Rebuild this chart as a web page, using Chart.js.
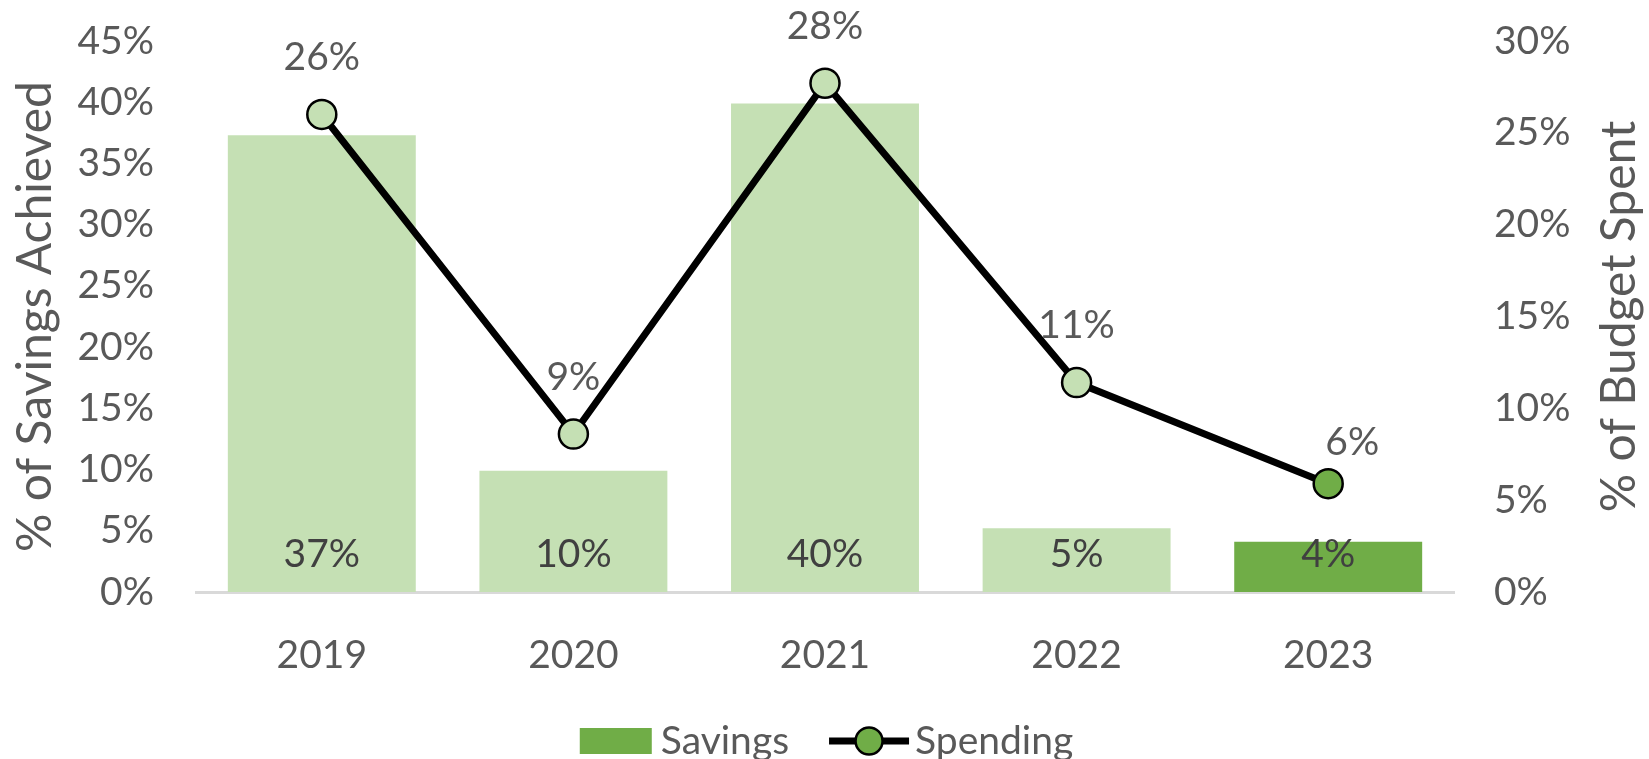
<!DOCTYPE html>
<html>
<head>
<meta charset="utf-8">
<script src="https://cdn.jsdelivr.net/npm/chart.js@4/dist/chart.umd.min.js"></script>
<style>
  html, body { margin: 0; padding: 0; background: #ffffff; }
  #wrap { width: 1649px; height: 759px; }
</style>
</head>
<body>
<div id="wrap"><canvas id="c" width="1649" height="759"></canvas></div>
<script>
const years = ['2019', '2020', '2021', '2022', '2023'];
const savings = [37.3, 9.9, 39.9, 5.2, 4.1];
const spending = [26.0, 8.6, 27.7, 11.4, 5.9];
const leftTicks = [0, 5, 10, 15, 20, 25, 30, 35, 40, 45];
const rightTicks = [0, 5, 10, 15, 20, 25, 30];
const seriesNames = ['Savings', 'Spending'];
const axisTitles = ['% of Savings Achieved', '% of Budget Spent'];

const LIGHT = '#C5E0B4';
const DARK = '#70AD47';
const TEXT = '#595959';
const FONT = 'Lato, "Open Sans", sans-serif';
const FS = 39;
const TITLE_FS = 48;

const pointColors = years.map((y, i) => i === years.length - 1 ? DARK : LIGHT);

const labelsPlugin = {
  id: 'customLabels',
  afterDraw(chart) {
    const ctx = chart.ctx;
    const area = chart.chartArea;
    ctx.save();
    ctx.font = FS + 'px ' + FONT;
    ctx.textAlign = 'center';
    ctx.textBaseline = 'middle';
    // bar labels (inside base)
    const barMeta = chart.getDatasetMeta(0);
    barMeta.data.forEach((el, i) => {
      ctx.fillStyle = '#404040';
      ctx.fillText(Math.round(savings[i]) + '%', el.x, el.base - 38);
    });
    // line labels (above; the last one is nudged up-right like the original)
    const lineMeta = chart.getDatasetMeta(1);
    const n = lineMeta.data.length;
    lineMeta.data.forEach((el, i) => {
      ctx.fillStyle = TEXT;
      const last = i === n - 1;
      const dx = last ? 24 : 0;
      const dy = last ? -41 : -57;
      ctx.fillText(Math.round(spending[i]) + '%', el.x + dx, el.y + dy);
    });
    // axis titles
    const cy = (area.top + area.bottom) / 2;
    ctx.fillStyle = TEXT;
    ctx.font = TITLE_FS + 'px ' + FONT;
    ctx.save();
    ctx.translate(chart.scales.y.left + 36, cy);
    ctx.rotate(-Math.PI / 2);
    ctx.fillText(axisTitles[0], 0, 0);
    ctx.restore();
    ctx.save();
    ctx.translate(chart.scales.y1.right - 29, cy);
    ctx.rotate(-Math.PI / 2);
    ctx.fillText(axisTitles[1], 0, 0);
    ctx.restore();

    // legend
    ctx.font = FS + 'px ' + FONT;
    const ly = 741;
    const boxW = 72, boxH = 26, markW = 80, gapBT = 9, gapItems = 40, gapMT = 6;
    const w1 = ctx.measureText(seriesNames[0]).width;
    const w2 = ctx.measureText(seriesNames[1]).width;
    const total = boxW + gapBT + w1 + gapItems + markW + gapMT + w2;
    let x = chart.width / 2 + 2 - total / 2;
    ctx.fillStyle = DARK;
    ctx.fillRect(x, ly - boxH / 2, boxW, boxH);
    x += boxW + gapBT;
    ctx.textAlign = 'left';
    ctx.fillStyle = TEXT;
    ctx.fillText(seriesNames[0], x, ly);
    x += w1 + gapItems;
    ctx.strokeStyle = '#000000';
    ctx.lineWidth = 7;
    ctx.beginPath();
    ctx.moveTo(x, ly);
    ctx.lineTo(x + markW, ly);
    ctx.stroke();
    ctx.beginPath();
    ctx.arc(x + markW / 2, ly, 13.5, 0, Math.PI * 2);
    ctx.fillStyle = DARK;
    ctx.fill();
    ctx.lineWidth = 2.5;
    ctx.stroke();
    x += markW + gapMT;
    ctx.fillStyle = TEXT;
    ctx.fillText(seriesNames[1], x, ly);
    ctx.restore();
  }
};

new Chart(document.getElementById('c'), {
  data: {
    labels: years,
    datasets: [
      {
        type: 'bar',
        label: seriesNames[0],
        data: savings,
        yAxisID: 'y',
        backgroundColor: pointColors,
        borderWidth: 0,
        barPercentage: 0.747,
        categoryPercentage: 1.0,
        order: 2
      },
      {
        type: 'line',
        label: seriesNames[1],
        data: spending,
        yAxisID: 'y1',
        borderColor: '#000000',
        borderWidth: 7,
        pointRadius: 14.5,
        pointHoverRadius: 14.5,
        pointBackgroundColor: pointColors,
        pointBorderColor: '#000000',
        pointBorderWidth: 2.5,
        tension: 0,
        fill: false,
        order: 1
      }
    ]
  },
  options: {
    responsive: false,
    animation: false,
    devicePixelRatio: 1,
    layout: { padding: { top: 41, left: 0, right: 0, bottom: 0 } },
    plugins: {
      legend: { display: false },
      tooltip: { enabled: false },
      title: { display: false }
    },
    scales: {
      x: {
        type: 'category',
        offset: true,
        grid: { display: false, drawTicks: false },
        border: { display: true, color: '#D9D9D9', width: 3 },
        ticks: { color: TEXT, font: { family: FONT, size: FS }, padding: 40, maxRotation: 0 },
        afterFit(s) { s.height = 167; s.paddingLeft = 0; s.paddingRight = 0; }
      },
      y: {
        position: 'left',
        min: 0, max: 45,
        afterBuildTicks(s) { s.ticks = leftTicks.map(v => ({ value: v })); },
        grid: { display: false, drawTicks: false },
        border: { display: false },
        ticks: { color: TEXT, font: { family: FONT, size: FS }, padding: 42, callback: v => v + '%' },
        afterFit(s) { s.width = 196; s.paddingTop = 0; s.paddingBottom = 0; }
      },
      y1: {
        position: 'right',
        min: 0, max: 30,
        afterBuildTicks(s) { s.ticks = rightTicks.map(v => ({ value: v })); },
        grid: { display: false, drawTicks: false },
        border: { display: false },
        ticks: { color: TEXT, font: { family: FONT, size: FS }, padding: 40, callback: v => v + '%' },
        afterFit(s) { s.width = 195; s.paddingTop = 0; s.paddingBottom = 0; }
      }
    }
  },
  plugins: [labelsPlugin]
});
</script>
</body>
</html>
